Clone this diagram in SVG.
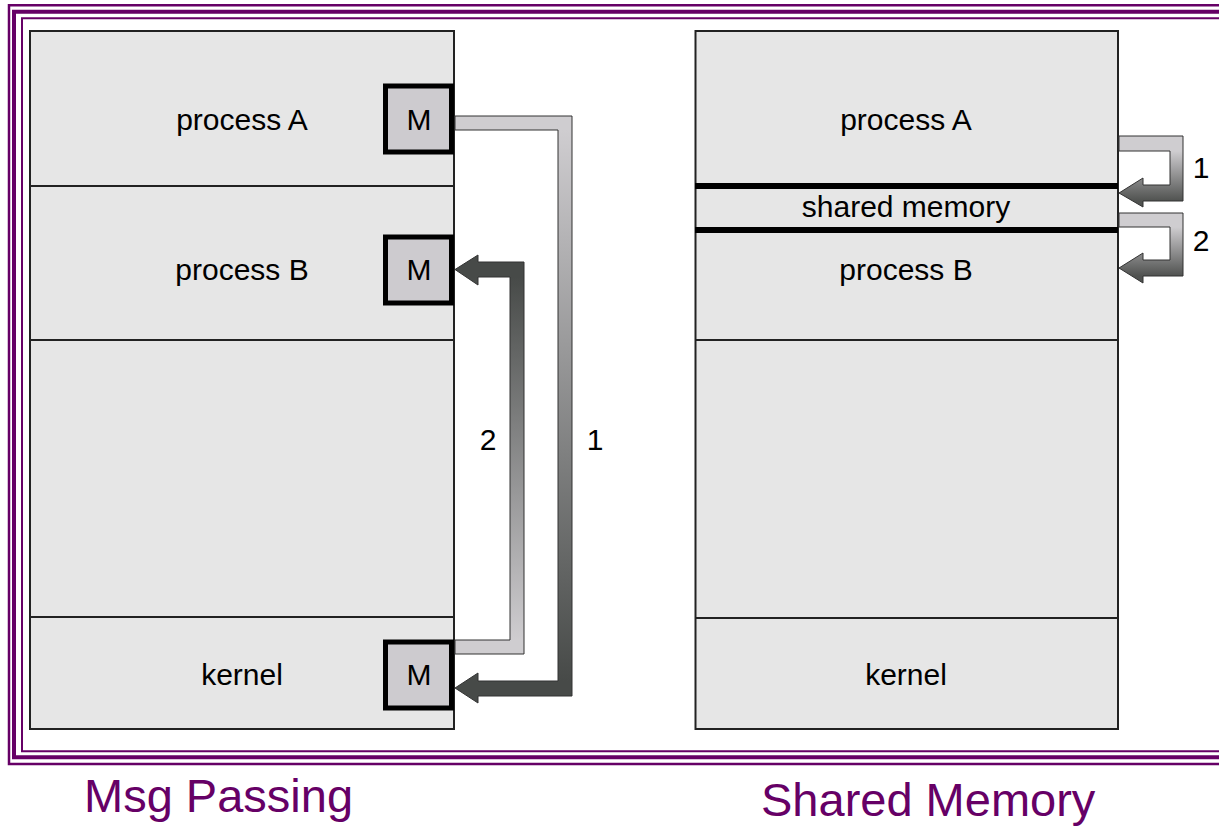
<svg xmlns="http://www.w3.org/2000/svg" width="1219" height="827" viewBox="0 0 1219 827">
<style>
.frame{fill:none;stroke:#660066}
.panel{fill:#e6e6e6;stroke:#222;stroke-width:2}
.div{stroke:#222;stroke-width:1.8}
.thick{stroke:#000;stroke-width:6}
.mbox{fill:#cdcbcf;stroke:#000;stroke-width:5}
.t{font-family:"Liberation Sans",Arial,sans-serif;font-size:30px;fill:#000;text-anchor:middle}
.cap{font-family:"Liberation Sans",Arial,sans-serif;font-size:47px;fill:#660066}
.conn{stroke:#333;stroke-width:1}
</style>
<defs>
<linearGradient id="g1" gradientUnits="userSpaceOnUse" x1="0" y1="130" x2="0" y2="681">
<stop offset="0" stop-color="#cfcdd0"/><stop offset="1" stop-color="#474a48"/>
</linearGradient>
<linearGradient id="g2" gradientUnits="userSpaceOnUse" x1="0" y1="640" x2="0" y2="277">
<stop offset="0" stop-color="#cfcdd0"/><stop offset="1" stop-color="#474a48"/>
</linearGradient>
<linearGradient id="g3" gradientUnits="userSpaceOnUse" x1="0" y1="151" x2="0" y2="201">
<stop offset="0" stop-color="#cfcdd0"/><stop offset="1" stop-color="#505250"/>
</linearGradient>
<linearGradient id="g4" gradientUnits="userSpaceOnUse" x1="0" y1="227" x2="0" y2="276">
<stop offset="0" stop-color="#cfcdd0"/><stop offset="1" stop-color="#505250"/>
</linearGradient>
</defs>
<rect width="1219" height="827" fill="#fff"/>
<g id="frame">
<path class="frame" stroke-width="2.5" d="M1225 5.3 H9 V764 H1225"/>
<path class="frame" stroke-width="4" d="M1225 11.7 H14 V757.3 H1225"/>
<path class="frame" stroke-width="2" d="M1225 18.3 H22 V751.3 H1225"/>
</g>
<g id="msg-panel">
<rect class="panel" x="30" y="31" width="424" height="698"/>
<line class="div" x1="30" y1="186" x2="454" y2="186"/>
<line class="div" x1="30" y1="340" x2="454" y2="340"/>
<line class="div" x1="30" y1="617" x2="454" y2="617"/>
</g>
<g id="msg-procA"><text class="t" x="242" y="130">process A</text>
<rect class="mbox" x="385.5" y="86" width="66" height="66"/><text class="t" x="419" y="130">M</text></g>
<g id="msg-procB"><text class="t" x="242" y="280">process B</text>
<rect class="mbox" x="385.5" y="237" width="66" height="66"/><text class="t" x="419" y="280">M</text></g>
<g id="msg-kernel"><text class="t" x="242" y="685">kernel</text>
<rect class="mbox" x="385.5" y="642" width="66" height="66"/><text class="t" x="419" y="685">M</text></g>
<g id="shm-panel">
<rect class="panel" x="695.5" y="31" width="422.5" height="698"/>
<line class="div" x1="695" y1="340" x2="1118" y2="340"/>
<line class="div" x1="695" y1="618" x2="1118" y2="618"/>
<line class="thick" x1="695" y1="186" x2="1118" y2="186"/>
<line class="thick" x1="695" y1="230" x2="1118" y2="230"/>
</g>
<g id="shm-procA"><text class="t" x="906" y="130">process A</text></g>
<g id="shm-mem"><text class="t" x="906" y="217">shared memory</text></g>
<g id="shm-procB"><text class="t" x="906" y="280">process B</text></g>
<g id="shm-kernel"><text class="t" x="906" y="685">kernel</text></g>
<g id="connectors">
<polygon class="conn" fill="url(#g1)" points="455,116 572,116 572,696 478,696 478,703 455,688 478,673 478,681 558,681 558,130 455,130"/>
<polygon class="conn" fill="url(#g2)" points="455,654 524,654 524,262 478,262 478,255 455,269.5 478,285 478,277 510,277 510,640 455,640"/>
<polygon class="conn" fill="url(#g3)" points="1119,136 1183,136 1183,201 1143,201 1143,207 1119,193 1143,178 1143,185 1170,185 1170,151 1119,151"/>
<polygon class="conn" fill="url(#g4)" points="1119,213 1183,213 1183,276 1143,276 1143,283 1119,268 1143,253 1143,260 1170,260 1170,227 1119,227"/>
<text class="t" x="595" y="450">1</text>
<text class="t" x="488" y="450">2</text>
<text class="t" x="1201" y="178">1</text>
<text class="t" x="1201" y="251">2</text>
</g>
<text class="cap" x="84" y="812">Msg Passing</text>
<text class="cap" x="761" y="816">Shared Memory</text>
</svg>
